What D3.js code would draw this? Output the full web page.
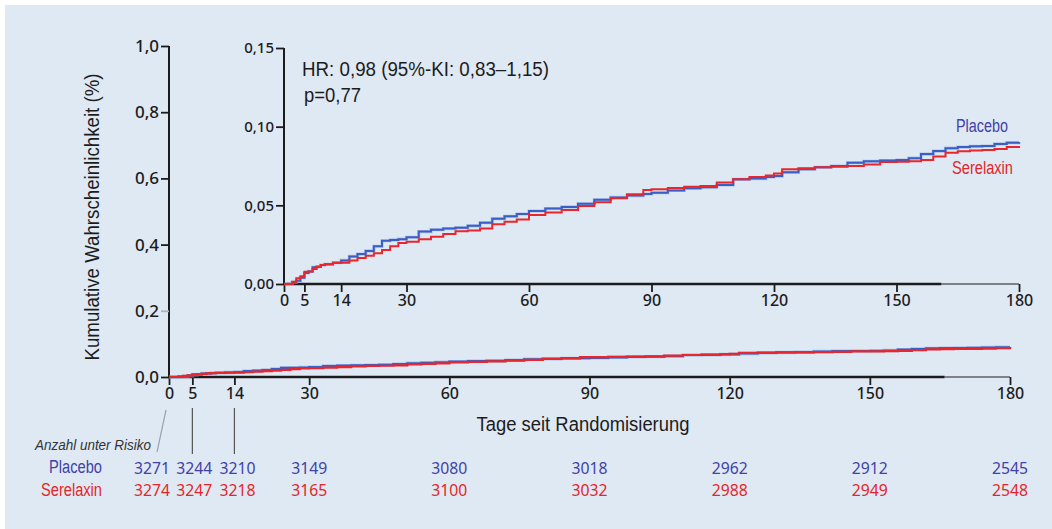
<!DOCTYPE html>
<html>
<head>
<meta charset="utf-8">
<script src="https://d3js.org/d3.v7.min.js"></script>
<style>
  body { margin: 0; background: #fff; }
  svg { display: block; }
</style>
</head>
<body>
<script>
var days = [0, 2, 3, 4, 5, 6, 7, 8, 9, 10, 12, 14, 16, 18, 20, 22, 24, 26, 28, 30,
  33, 36, 39, 42, 45, 48, 51, 54, 57, 60, 64, 68, 72, 76, 80, 84, 88, 90, 94, 98,
  102, 106, 110, 114, 118, 120, 122, 126, 130, 134, 138, 142, 146, 150, 153, 156,
  159, 162, 165, 168, 171, 174, 177, 180];

var placebo = [0, 0.001, 0.002, 0.004, 0.007, 0.008, 0.0106, 0.011, 0.012, 0.0125,
  0.0135, 0.015, 0.0175, 0.019, 0.021, 0.024, 0.0275, 0.028, 0.0285, 0.0297,
  0.0333, 0.0345, 0.0352, 0.0358, 0.037, 0.039, 0.0415, 0.043, 0.0445, 0.0464,
  0.048, 0.049, 0.051, 0.0535, 0.055, 0.0562, 0.0572, 0.058, 0.0595, 0.0608,
  0.0615, 0.063, 0.0665, 0.067, 0.068, 0.0686, 0.071, 0.073, 0.0742, 0.075,
  0.0771, 0.078, 0.0785, 0.0788, 0.080, 0.0826, 0.0845, 0.0863, 0.087, 0.0875,
  0.0877, 0.089, 0.0898, 0.0903];

var serelaxin = [0, 0.0015, 0.0036, 0.005, 0.0078, 0.008, 0.0095, 0.011, 0.012, 0.0125,
  0.0135, 0.0135, 0.015, 0.0165, 0.018, 0.0195, 0.0216, 0.024, 0.026, 0.0269,
  0.0284, 0.030, 0.0318, 0.0335, 0.034, 0.0352, 0.038, 0.0396, 0.041, 0.0439,
  0.0455, 0.047, 0.0495, 0.052, 0.0545, 0.057, 0.0598, 0.0602, 0.061, 0.0618,
  0.0623, 0.0645, 0.0665, 0.068, 0.069, 0.0703, 0.0729, 0.0735, 0.0742, 0.0745,
  0.075, 0.076, 0.0775, 0.0777, 0.078, 0.0788, 0.081, 0.0835, 0.0843, 0.0848,
  0.0852, 0.0858, 0.087, 0.0877];

// number at risk
var riskDays = [0, 5, 14, 30, 60, 90, 120, 150, 180];
var riskPlacebo = [3271, 3244, 3210, 3149, 3080, 3018, 2962, 2912, 2545];
var riskSerelaxin = [3274, 3247, 3218, 3165, 3100, 3032, 2988, 2949, 2548];

var xTicks = [0, 5, 14, 30, 60, 90, 120, 150, 180];
var mainYTicks = [0, 0.2, 0.4, 0.6, 0.8, 1.0];
var insetYTicks = [0, 0.05, 0.10, 0.15];

var blue = "#3a5fc4", red = "#e8262b";
var blueText = "#4141a6", redText = "#e3262a";
var ink = "#1c1c1c";
var numFont = "'Noto Sans', 'Open Sans', sans-serif";
var narrowFont = "'Liberation Sans Narrow', 'Liberation Sans', Arial, sans-serif";

var width = 1052, height = 529;
var svg = d3.select("body").append("svg")
  .attr("width", width)
  .attr("height", height);

svg.append("rect")
  .attr("x", 5).attr("y", 5)
  .attr("width", width - 5).attr("height", height - 5)
  .attr("fill", "#dfe9f4");

var comma = function (digits) {
  return function (d) { return d3.format("." + digits + "f")(d).replace(".", ","); };
};

function drawPanel(x, y, yTicks, yDigits, yFont, breakDay) {
  var g = svg.append("g");
  // y axis
  var ya = g.append("g")
    .attr("transform", "translate(" + x.range()[0] + ",0)")
    .call(d3.axisLeft(y).tickValues(yTicks).tickFormat(comma(yDigits)).tickSize(8).tickPadding(2));
  ya.select(".domain").attr("stroke", ink).attr("stroke-width", 2).attr("d",
    "M0," + y.range()[0] + "V" + y.range()[1]);
  ya.selectAll(".tick line").attr("stroke", ink).attr("stroke-width", 1.8);
  ya.selectAll(".tick text").attr("fill", ink).style("font-family", numFont)
    .style("font-size", yFont + "px").style("font-weight", 500);

  // x axis
  var xa = g.append("g")
    .attr("transform", "translate(0," + y.range()[0] + ")")
    .call(d3.axisBottom(x).tickValues(xTicks).tickSize(8).tickPadding(3));
  xa.select(".domain").remove();
  xa.selectAll(".tick line").attr("stroke", ink).attr("stroke-width", 1.8);
  xa.selectAll(".tick text").attr("fill", ink).style("font-family", numFont)
    .style("font-size", "16px").style("font-weight", 500);
  // the baseline is heavier up to the break, thinner after it
  xa.append("line").attr("x1", x(0)).attr("x2", x(breakDay))
    .attr("stroke", ink).attr("stroke-width", 2.4);
  xa.append("line").attr("x1", x(breakDay)).attr("x2", x(180))
    .attr("stroke", ink).attr("stroke-width", 1.2);
  return g;
}

function drawCurves(g, x, y, w) {
  var line = d3.line()
    .x(function (d, i) { return x(days[i]); })
    .y(function (d) { return y(d); })
    .curve(d3.curveStepAfter);
  g.append("path").attr("d", line(placebo))
    .attr("fill", "none").attr("stroke", "#8fa6e0").attr("stroke-width", w + 1.2).attr("opacity", 0.6);
  g.append("path").attr("d", line(placebo))
    .attr("fill", "none").attr("stroke", blue).attr("stroke-width", w);
  g.append("path").attr("d", line(serelaxin))
    .attr("fill", "none").attr("stroke", red).attr("stroke-width", w);
}

// ---- main chart
var x = d3.scaleLinear().domain([0, 180]).range([169, 1010]);
var y = d3.scaleLinear().domain([0, 1]).range([377, 46]);
var main = drawPanel(x, y, mainYTicks, 1, 17, 166);
main.selectAll(".tick").filter(function (d) { return d === 0.2; })
  .select("line").attr("stroke", "#aab4c0");
drawCurves(main, x, y, 2.2);

svg.append("text")
  .attr("transform", "translate(99,217) rotate(-90)")
  .attr("text-anchor", "middle")
  .attr("textLength", 287).attr("lengthAdjust", "spacingAndGlyphs")
  .style("font-family", narrowFont).style("font-size", "20px").attr("fill", ink)
  .text("Kumulative Wahrscheinlichkeit  (%)");

svg.append("text")
  .attr("x", 583).attr("y", 431)
  .attr("text-anchor", "middle")
  .attr("textLength", 213).attr("lengthAdjust", "spacingAndGlyphs")
  .style("font-family", narrowFont).style("font-size", "20px").attr("fill", ink)
  .text("Tage seit Randomisierung");

// ---- inset
var xi = d3.scaleLinear().domain([0, 180]).range([284, 1019]);
var yi = d3.scaleLinear().domain([0, 0.15]).range([284, 48]);
var inset = drawPanel(xi, yi, insetYTicks, 2, 15, 161);
drawCurves(inset, xi, yi, 2);

svg.append("text")
  .attr("x", 302).attr("y", 76)
  .attr("textLength", 247).attr("lengthAdjust", "spacingAndGlyphs")
  .style("font-family", narrowFont).style("font-size", "20px").attr("fill", ink)
  .text("HR: 0,98 (95%-KI: 0,83\u20131,15)");
svg.append("text")
  .attr("x", 304).attr("y", 102)
  .attr("textLength", 57).attr("lengthAdjust", "spacingAndGlyphs")
  .style("font-family", narrowFont).style("font-size", "20px").attr("fill", ink)
  .text("p=0,77");

svg.append("text")
  .attr("x", 956).attr("y", 132)
  .attr("textLength", 52).attr("lengthAdjust", "spacingAndGlyphs")
  .style("font-family", narrowFont).style("font-size", "18px").attr("fill", blueText)
  .text("Placebo");
svg.append("text")
  .attr("x", 952).attr("y", 174)
  .attr("textLength", 61).attr("lengthAdjust", "spacingAndGlyphs")
  .style("font-family", narrowFont).style("font-size", "18px").attr("fill", redText)
  .text("Serelaxin");

// ---- number at risk table (early columns are spread a little so they fit)
var rx = function (d) { return d === 0 ? x(d) - 17 : d === 5 ? x(d) + 2 : d === 14 ? x(d) + 3 : x(d); };

svg.append("line")
  .attr("x1", x(0) - 3).attr("y1", 410).attr("x2", x(0) - 12).attr("y2", 452)
  .attr("stroke", "#9aa3ad").attr("stroke-width", 1.2);
svg.selectAll(".leader").data([5, 14]).enter().append("line")
  .attr("x1", function (d) { return x(d); }).attr("x2", function (d) { return x(d); })
  .attr("y1", 408).attr("y2", 454)
  .attr("stroke", "#555").attr("stroke-width", 1.2);

svg.append("text")
  .attr("x", 151).attr("y", 450).attr("text-anchor", "end")
  .attr("textLength", 116).attr("lengthAdjust", "spacingAndGlyphs")
  .style("font-family", narrowFont).style("font-size", "15px").style("font-style", "italic")
  .attr("fill", "#333")
  .text("Anzahl unter Risiko");

svg.append("text").attr("x", 49).attr("y", 473)
  .attr("textLength", 53).attr("lengthAdjust", "spacingAndGlyphs")
  .style("font-family", narrowFont).style("font-size", "18px").attr("fill", blueText).text("Placebo");
svg.append("text").attr("x", 41).attr("y", 496)
  .attr("textLength", 61).attr("lengthAdjust", "spacingAndGlyphs")
  .style("font-family", narrowFont).style("font-size", "18px").attr("fill", redText).text("Serelaxin");

svg.selectAll(".rp").data(riskPlacebo).enter().append("text")
  .attr("x", function (d, i) { return rx(riskDays[i]); }).attr("y", 474)
  .attr("text-anchor", "middle")
  .attr("textLength", 36).attr("lengthAdjust", "spacingAndGlyphs")
  .style("font-family", numFont).style("font-size", "17px").attr("fill", blueText)
  .text(function (d) { return d; });
svg.selectAll(".rs").data(riskSerelaxin).enter().append("text")
  .attr("x", function (d, i) { return rx(riskDays[i]); }).attr("y", 496)
  .attr("text-anchor", "middle")
  .attr("textLength", 36).attr("lengthAdjust", "spacingAndGlyphs")
  .style("font-family", numFont).style("font-size", "17px").attr("fill", redText)
  .text(function (d) { return d; });
</script>
</body>
</html>
